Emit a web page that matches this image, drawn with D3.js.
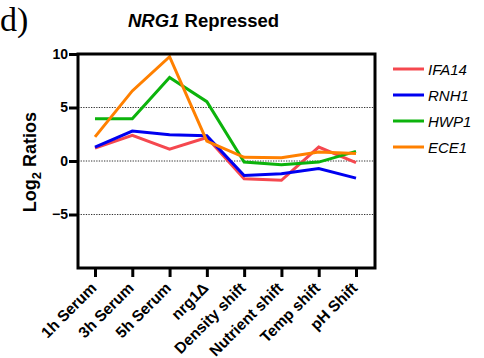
<!DOCTYPE html>
<html><head><meta charset="utf-8">
<script src="https://cdn.jsdelivr.net/npm/d3@7"></script>
<style>body{margin:0;background:#fff}</style>
</head><body>
<svg id="chart" width="484" height="358"></svg>
<script>
// Log2 expression ratios of NRG1-repressed genes across conditions
const conditions = ["1h Serum", "3h Serum", "5h Serum", "nrg1\u0394", "Density shift", "Nutrient shift", "Temp shift", "pH Shift"];
const ifa14 = [1.2, 2.4, 1.1, 2.2, -1.65, -1.8, 1.3, -0.15];
const rnh1  = [1.3, 2.8, 2.45, 2.35, -1.35, -1.2, -0.7, -1.6];
const hwp1  = [3.95, 3.95, 7.8, 5.55, -0.1, -0.35, -0.1, 0.9];
const ece1  = [2.25, 6.55, 9.75, 1.85, 0.35, 0.3, 0.85, 0.7];
const seriesNames = ["IFA14", "RNH1", "HWP1", "ECE1"];
const yTicks = [10, 5, 0, -5];

const series = [
  {name: seriesNames[0], values: ifa14, color: "#f5484f"},
  {name: seriesNames[1], values: rnh1,  color: "#0000f0"},
  {name: seriesNames[2], values: hwp1,  color: "#0cb30c"},
  {name: seriesNames[3], values: ece1,  color: "#ff8000"}
];

const sans = "'Liberation Sans', Arial, sans-serif";
const svg = d3.select("#chart");
const L = 78, R = 375, T = 54, B = 268;

const x = d3.scalePoint().domain(conditions).range([95, 356]);
const y = d3.scaleLinear().domain([-10, 10]).range([B, T]);

// panel letter
svg.append("text").attr("x", 0).attr("y", 31)
  .style("font-family", "'Liberation Serif', 'Times New Roman', serif")
  .style("font-size", "34px").text("d)");

// title
const title = svg.append("text").attr("x", 128).attr("y", 26.5)
  .style("font-family", sans)
  .style("font-size", "18.5px").style("font-weight", "bold");
title.append("tspan").style("font-style", "italic").text("NRG1");
title.append("tspan").text(" Repressed");

// dotted grid lines
svg.append("g").selectAll("line").data(yTicks.filter(d => d !== 10)).join("line")
  .attr("x1", L).attr("x2", R).attr("y1", d => y(d)).attr("y2", d => y(d))
  .attr("stroke", "#333").attr("stroke-width", 1).attr("stroke-dasharray", "1.3,1.3");

// lines
const line = d3.line().x((d, i) => x(conditions[i])).y(d => y(d));
svg.append("g").selectAll("path").data(series).join("path")
  .attr("d", d => line(d.values)).attr("fill", "none")
  .attr("stroke", d => d.color).attr("stroke-width", 3)
  .attr("stroke-linejoin", "miter");

// frame
svg.append("rect").attr("x", L).attr("y", T).attr("width", R - L).attr("height", B - T)
  .attr("fill", "none").attr("stroke", "#000").attr("stroke-width", 3);

// y axis
const yAxis = svg.append("g").attr("transform", `translate(${L},0)`)
  .call(d3.axisLeft(y).tickValues(yTicks).tickSize(9).tickPadding(1).tickFormat(d3.format("d")));
yAxis.select(".domain").remove();
yAxis.selectAll(".tick line").attr("stroke-width", 3);
yAxis.selectAll("text").style("font-family", sans)
  .style("font-size", "14px").style("font-weight", "bold").attr("fill", "#000");

// x axis
const xAxis = svg.append("g").attr("transform", `translate(0,${B})`)
  .call(d3.axisBottom(x).tickSize(9).tickPadding(2));
xAxis.select(".domain").remove();
xAxis.selectAll(".tick line").attr("stroke-width", 3);
xAxis.selectAll("text")
  .style("font-family", sans)
  .style("font-size", "15.5px").style("font-weight", "bold").attr("fill", "#000")
  .attr("text-anchor", "end").attr("dy", 0)
  .attr("transform", "translate(2,21) rotate(-45)").attr("y", 0).attr("x", 0);

// y label
const yl = svg.append("text").attr("transform", "translate(36,162) rotate(-90)")
  .attr("text-anchor", "middle")
  .style("font-family", sans)
  .style("font-size", "18px").style("font-weight", "bold");
yl.append("tspan").text("Log");
yl.append("tspan").attr("dy", 5).style("font-size", "13px").text("2");
yl.append("tspan").attr("dy", -5).text(" Ratios");

// legend
const lg = svg.append("g").selectAll("g").data(series).join("g")
  .attr("transform", (d, i) => `translate(393,${69 + i * 26})`);
lg.append("line").attr("x1", 0).attr("x2", 31).attr("stroke", d => d.color).attr("stroke-width", 3);
lg.append("text").attr("x", 35).attr("y", 5.5)
  .style("font-family", sans)
  .style("font-size", "15px").style("font-style", "italic").text(d => d.name);
</script>
</body></html>
